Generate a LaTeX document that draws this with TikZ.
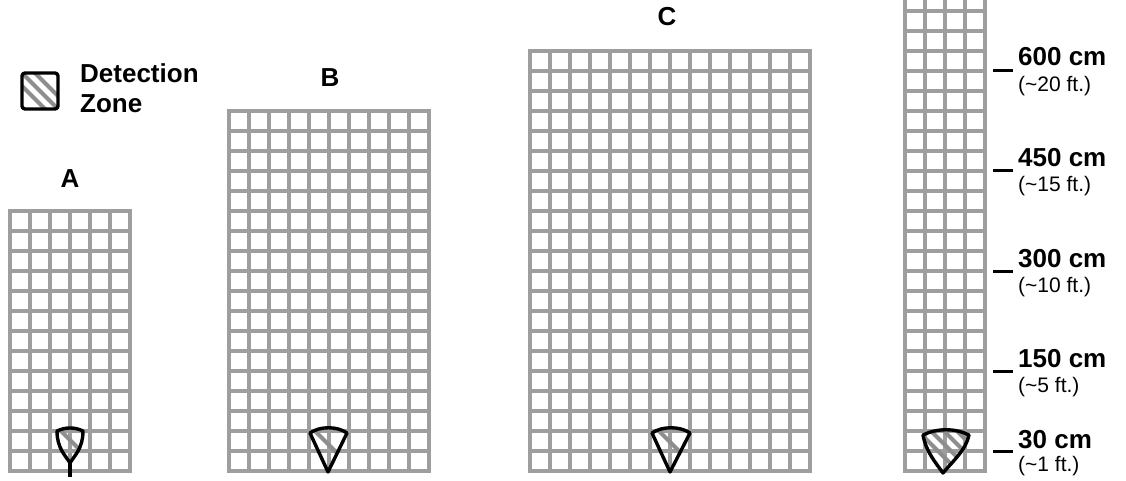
\documentclass[tikz,border=0pt]{standalone}
\usepackage{fontspec}
\setmainfont{Liberation Sans}
\definecolor{GRIDGRAY}{HTML}{9E9E9E}
\definecolor{HATCHGRAY}{HTML}{8E8E8E}

\begin{document}
\begin{tikzpicture}[
  x=1pt, y=-1pt,
  %% Room grids — gray squares, 20 px pitch
  gline/.style={draw=GRIDGRAY, line width=3.8pt, line cap=rect},
  %% Detection zones — black outline, gray hatch
  zone/.style={draw=black, line width=3.4pt, line join=round},
  hatch/.style={draw=HATCHGRAY, line width=4pt},
  scalemark/.style={draw=black, line width=3pt},
  %% Labels
  lbl/.style={font=\fontsize{26}{30}\selectfont\bfseries, inner sep=0pt},
  ftlbl/.style={font=\fontsize{21}{24}\selectfont, inner sep=0pt}
]
\useasboundingbox (0,0) rectangle (1126,481);
\clip (0,0) rectangle (1126,481);

%% ── Grids A, B, C, D  (left x / top y / columns / rows) ───────
\foreach \gx/\gy/\gc/\gr in {10/211/6/13, 229/111/10/18, 530/51/14/21, 905/-9/4/24} {
  \foreach \i in {0,...,\gc}
    \draw[gline] ({\gx+20*\i}, \gy) -- ({\gx+20*\i}, 471);
  \foreach \j in {0,...,\gr}
    \draw[gline] (\gx, {\gy+20*\j}) -- ({\gx+20*\gc}, {\gy+20*\j});
}

%% ── Legend ───────────────────────────────────────────────────
\begin{scope}
  \clip (22,73) rectangle (58,109);
  \foreach \c in {38,51,64}
    \draw[hatch] (10, {10+\c}) -- (70, {70+\c});
\end{scope}
\draw[zone, rounded corners=3pt] (22,73) rectangle (58,109);
\node[lbl, anchor=base west] (det) at (80,83) {Detection};
\node[lbl, anchor=base west] (zon) at (80,113) {Zone};

%% ── Grid titles ──────────────────────────────────────────────
\node[lbl, anchor=base] (ta) at (70,188) {A};
\node[lbl, anchor=base] (tb) at (330,87) {B};
\node[lbl, anchor=base] (tc) at (667,26) {C};

%% ── Zone A ───────────────────────────────────────────────────
\begin{scope}
  \clip (57,431) .. controls (65,427) and (75,427) .. (83,431)
    .. controls (83,448) and (75,455) .. (70,463)
    .. controls (65,455) and (57,448) .. (57,431);
  \draw[hatch] (50,420) -- (95,465);
\end{scope}
\draw[zone] (57,431) .. controls (65,427) and (75,427) .. (83,431)
  .. controls (83,448) and (75,455) .. (70,463)
  .. controls (65,455) and (57,448) .. cycle;
\draw[zone] (70,463) -- (70,477);

%% ── Zone B ───────────────────────────────────────────────────
\begin{scope}
  \clip (328,472) -- (310,433) .. controls (320,426) and (337,426) .. (347,433) -- cycle;
  \draw[hatch] (300,416) -- (360,476);
\end{scope}
\draw[zone] (328,472) -- (310,433) .. controls (320,426) and (337,426) .. (347,433) -- cycle;

%% ── Zone C ───────────────────────────────────────────────────
\begin{scope}
  \clip (670,472) -- (652,433) .. controls (662,426) and (680,426) .. (690,433) -- cycle;
  \draw[hatch] (650,422) -- (710,482);
\end{scope}
\draw[zone] (670,472) -- (652,433) .. controls (662,426) and (680,426) .. (690,433) -- cycle;

%% ── Zone D ───────────────────────────────────────────────────
\begin{scope}
  \clip (923,435) .. controls (926,452) and (936,463) .. (943,473)
    .. controls (952,462) and (966,450) .. (969,435)
    .. controls (955,428) and (937,428) .. (923,435);
  \foreach \c in {-487,-500,-513,-526}
    \draw[hatch] (900, {900+\c}) -- (990, {990+\c});
\end{scope}
\draw[zone] (923,435) .. controls (926,452) and (936,463) .. (943,473)
  .. controls (952,462) and (966,450) .. (969,435)
  .. controls (955,428) and (937,428) .. cycle;

%% ── Distance scale ───────────────────────────────────────────
\node[lbl, anchor=base west] (d600) at (1018,66) {600 cm};
\node[ftlbl, anchor=base west] (f600) at (1018,92) {(\textasciitilde20 ft.)};
\node[lbl, anchor=base west] (d450) at (1018,167) {450 cm};
\node[ftlbl, anchor=base west] (f450) at (1018,192) {(\textasciitilde15 ft.)};
\node[lbl, anchor=base west] (d300) at (1018,267) {300 cm};
\node[ftlbl, anchor=base west] (f300) at (1018,292) {(\textasciitilde10 ft.)};
\node[lbl, anchor=base west] (d150) at (1018,367) {150 cm};
\node[ftlbl, anchor=base west] (f150) at (1018,392) {(\textasciitilde5 ft.)};
\node[lbl, anchor=base west] (d30)  at (1018,448) {30 cm};
\node[ftlbl, anchor=base west] (f30)  at (1018,471) {(\textasciitilde1 ft.)};

\draw[scalemark] (993,71)  -- (1013,71);
\draw[scalemark] (993,171) -- (1013,171);
\draw[scalemark] (993,271) -- (1013,271);
\draw[scalemark] (993,371) -- (1013,371);
\draw[scalemark] (993,451) -- (1013,451);

\end{tikzpicture}
\end{document}
